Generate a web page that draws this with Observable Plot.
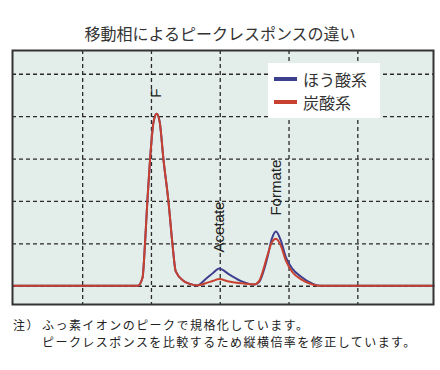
<!DOCTYPE html>
<html>
<head>
<meta charset="utf-8">
<script src="https://cdn.jsdelivr.net/npm/d3@7"></script>
<script src="https://cdn.jsdelivr.net/npm/@observablehq/plot@0.6"></script>
<style>
  body { margin: 0; background: #fff; }
  #wrap { position: relative; width: 440px; height: 370px; overflow: hidden; font-family: "Noto Sans CJK JP", sans-serif; color: #222; }
  #chart { position: absolute; left: 0; top: 0; }
  #title { position: absolute; left: 0; top: 22px; width: 440px; text-align: center; font-size: 16px; line-height: 22px; color: #333; }
  #legend { position: absolute; left: 268px; top: 63px; width: 112px; height: 55px; background: #fff; }
  .sw { position: absolute; left: 6px; width: 23px; height: 4px; }
  .lt { position: absolute; left: 35px; font-size: 16px; line-height: 20px; color: #333; white-space: nowrap; }
  .nl { position: absolute; font-size: 12px; line-height: 17.4px; letter-spacing: 1.45px; white-space: nowrap; color: #222; }
</style>
</head>
<body>
<div id="wrap">
  <div id="chart"></div>
  <div id="title"></div>
  <div id="legend"></div>
</div>
<script>
const titleText = "移動相によるピークレスポンスの違い";
const noteHead = "注）";
const noteLines = ["ふっ素イオンのピークで規格化しています。", "ピークレスポンスを比較するため縦横倍率を修正しています。"];

const seriesNames = ["ほう酸系", "炭酸系"];
const seriesColors = ["#3d3f8f", "#c8402f"];

// retention time (grid units) and normalized response
const time      = [0,    1.80, 1.87, 1.906, 1.94, 1.98, 2.03, 2.076, 2.12, 2.174, 2.247, 2.305, 2.353, 2.473, 2.57, 2.668, 2.789, 2.90, 2.983, 3.128, 3.323, 3.492, 3.564, 3.687, 3.75, 3.81, 3.88, 3.953, 4.05, 4.171, 4.341, 4.45, 6.1];
const boric     = [0.01, 0.01, 0.2,  1,     2,    3,    3.87, 4.07,  3.87, 3,     2,     1,     0.35,  0.12,  0.05, 0.02,  0.17,  0.32, 0.42,  0.28,  0.11,  0.04,  0.1,   0.69,  1.12, 1.29, 1.08, 0.69,  0.41, 0.23,  0.06,  0.01, 0.01];
const carbonate = [0.01, 0.01, 0.2,  1,     2,    3,    3.87, 4.07,  3.87, 3,     2,     1,     0.35,  0.12,  0.05, 0.02,  0.07,  0.13, 0.17,  0.11,  0.07,  0.04,  0.12,  0.73,  1.04, 1.12, 0.96, 0.61,  0.33, 0.17,  0.04,  0.01, 0.01];

const peakNames = ["F", "Acetate", "Formate"];
const peakTimes = [2.076, 2.983, 3.81];

const gridX = [1, 2, 3, 4, 5];
const gridY = [0, 1, 2, 3, 4, 5];

const rows = time.flatMap((t, i) => [
  {t, v: boric[i], s: seriesNames[0]},
  {t, v: carbonate[i], s: seriesNames[1]}
]);
const peaks = peakNames.map((name, k) => {
  const i = time.indexOf(peakTimes[k]);
  return {name, t: peakTimes[k], v: Math.max(boric[i], carbonate[i])};
});

const plot = Plot.plot({
  width: 440,
  height: 370,
  marginLeft: 12,
  marginRight: 7,
  marginTop: 50,
  marginBottom: 66,
  x: {domain: [-0.02, 6.1], axis: null},
  y: {domain: [-0.43, 5.56], axis: null},
  color: {domain: seriesNames, range: seriesColors},
  style: {background: "transparent"},
  marks: [
    Plot.frame({fill: "#e3ede9"}),
    Plot.ruleX(gridX, {stroke: "#2a2a2a", strokeDasharray: "4,3", strokeWidth: 1.3}),
    Plot.ruleY(gridY, {stroke: "#2a2a2a", strokeDasharray: "4,3", strokeWidth: 1.3}),
    Plot.line(rows, {x: "t", y: "v", z: "s", stroke: "s", strokeWidth: 2, curve: "monotone-x"}),
    Plot.text(peaks, {x: "t", y: "v", text: "name", rotate: -90, textAnchor: "start", dy: -16,
      fontSize: 15, fontFamily: "Liberation Sans, Arial, sans-serif", fill: "#222"}),
    Plot.frame({stroke: "#333", strokeWidth: 2})
  ]
});
document.getElementById("chart").appendChild(plot);

const wrap = document.getElementById("wrap");
document.getElementById("title").textContent = titleText;

const legend = document.getElementById("legend");
seriesNames.forEach((name, i) => {
  const sw = document.createElement("div");
  sw.className = "sw";
  sw.style.top = (14 + i * 23) + "px";
  sw.style.background = seriesColors[i];
  legend.appendChild(sw);
  const lt = document.createElement("div");
  lt.className = "lt";
  lt.style.top = (6 + i * 23) + "px";
  lt.textContent = name;
  legend.appendChild(lt);
});

// notes: head + two lines, second line indented under the first line's text
const head = document.createElement("div");
head.className = "nl";
head.style.left = "13px";
head.style.top = "316px";
head.textContent = noteHead;
wrap.appendChild(head);
noteLines.forEach((line, i) => {
  const d = document.createElement("div");
  d.className = "nl";
  d.style.left = "42px";
  d.style.top = (316 + i * 17.4) + "px";
  d.textContent = line;
  wrap.appendChild(d);
});
</script>
</body>
</html>
